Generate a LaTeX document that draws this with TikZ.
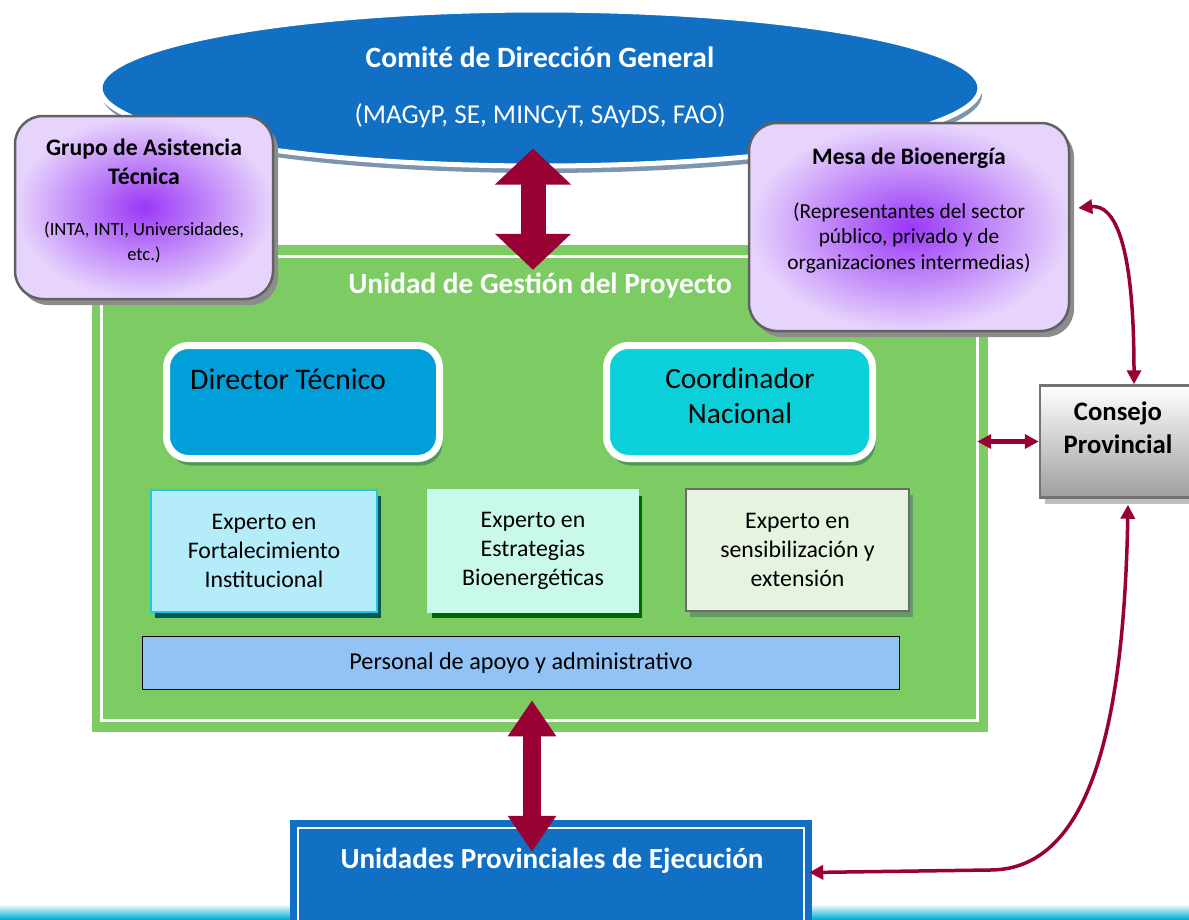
\documentclass[tikz,border=0pt]{standalone}
\usepackage{fontspec}
\setmainfont{Carlito}
\usetikzlibrary{shapes}
\usetikzlibrary{shadows}
\usetikzlibrary{arrows.meta}
\usetikzlibrary{calc}

\definecolor{azul}{HTML}{1170C4}
\definecolor{sombraazul}{HTML}{7F95AE}
\definecolor{verde}{HTML}{7DCB63}
\definecolor{verdeosc}{HTML}{4E9A58}
\definecolor{azuldir}{HTML}{009FD9}
\definecolor{cianco}{HTML}{0BCFD9}
\definecolor{lila}{HTML}{E6D4FC}
\definecolor{lilafuerte}{HTML}{9A38F6}
\definecolor{vino}{HTML}{990033}
\definecolor{celeste}{HTML}{B4ECFA}
\definecolor{cianborde}{HTML}{22C9DD}
\definecolor{menta}{HTML}{C9F9EA}
\definecolor{crema}{HTML}{E6F4DF}
\definecolor{azulclaro}{HTML}{91C4F5}
\definecolor{franja}{HTML}{00B0D8}

\begin{document}
\begin{tikzpicture}[x=1pt, y=-1pt, inner sep=0pt,
	morada/.style={rectangle, rounded corners=28pt, draw=black!62, line width=2.5pt,
		inner color=lilafuerte, outer color=lila,
		drop shadow={shadow xshift=5pt, shadow yshift=-6pt, fill=black!45, opacity=1}},
	jefe/.style={rectangle, rounded corners=22pt, draw=white, line width=7pt,
		minimum height=113pt,
		drop shadow={shadow xshift=3pt, shadow yshift=-7pt, fill=verdeosc, opacity=1}},
	experto/.style={rectangle, line width=2pt, minimum height=122pt, align=center,
		font=\fontsize{23.8}{28.7}\selectfont},
	gruesa/.style={vino, line width=25pt,
		{Triangle[width=74pt,length=36pt]}-{Triangle[width=74pt,length=36pt]}},
	gruesachica/.style={vino, line width=18pt,
		{Triangle[width=46pt,length=36pt]}-{Triangle[width=46pt,length=36pt]}},
	fina/.style={vino, line width=3.5pt,
		{Triangle[width=14pt,length=14pt]}-{Triangle[width=14pt,length=14pt]}},
]
\useasboundingbox (0,0) rectangle (1189,919);

% Franja de abajo
\fill[top color=white, bottom color=franja] (0,904) rectangle (1189,919);

% Comite
\node[ellipse, draw=white, line width=5pt, fill=azul, minimum width=880pt, minimum height=156pt,
	drop shadow={shadow xshift=2pt, shadow yshift=-7pt, fill=sombraazul, opacity=1}] (comite) at (540,88) {};
\node[text=white, font=\bfseries\fontsize{29.5}{33}\selectfont] (comitetit) at (540,57) {Comité de Dirección General};
\node[text=white, font=\fontsize{27.2}{31}\selectfont] (comitesub) at (540,116) {(MAGyP, SE, MINCyT, SAyDS, FAO)};

% Unidad de Gestion
\node[rectangle, fill=verde, minimum width=896pt, minimum height=487pt] (ugp) at (540,488.5) {};
\draw[white, line width=3pt] ($(ugp.north west)+(9.5,11.5)$) rectangle ($(ugp.south east)+(-10.5,-11.5)$);
\node[text=white, font=\bfseries\fontsize{29.3}{33}\selectfont] (ugptit) at (540,285) {Unidad de Gestión del Proyecto};

% Grupo y Mesa
\node[morada, minimum width=258pt, minimum height=183pt] (grupo) at (144,207.5) {};
\node[align=center, font=\bfseries\fontsize{23.7}{29}\selectfont] (grupotit) at (144,162) {Grupo de Asistencia\\Técnica};
\node[align=center, font=\fontsize{18.6}{25}\selectfont] (gruposub) at (144,242) {(INTA, INTI, Universidades,\\etc.)};

\node[morada, minimum width=320pt, minimum height=208pt] (mesa) at (909,227) {};
\node[font=\bfseries\fontsize{23.6}{27}\selectfont] (mesatit) at (909,158) {Mesa de Bioenergía};
\node[align=center, font=\fontsize{21.4}{25.5}\selectfont] (mesasub) at (909,238) {(Representantes del sector\\público, privado y de\\organizaciones intermedias)};

% Director y Coordinador
\node[jefe, fill=azuldir, minimum width=273pt] (dir) at (303,402) {};
\node[anchor=west, font=\fontsize{29.9}{34}\selectfont] (dirtxt) at (190,379) {Director Técnico};
\node[jefe, fill=cianco, minimum width=266pt] (coord) at (739.5,402) {};
\node[align=center, font=\fontsize{29.4}{35}\selectfont] (coordtxt) at (740,396) {Coordinador\\Nacional};

% Expertos
\node[experto, fill=celeste, draw=cianborde, minimum width=226pt,
	drop shadow={shadow xshift=4pt, shadow yshift=-6pt, fill=teal!70!black, opacity=1}] (exp1) at (264,551) {Experto en\\Fortalecimiento\\Institucional};
\node[experto, fill=menta, draw=menta, minimum width=210pt,
	drop shadow={shadow xshift=4pt, shadow yshift=-6pt, fill=green!40!black, opacity=1}] (exp2) at (533,551) {Experto en\\Estrategias\\Bioenergéticas};
\node[experto, fill=crema, draw=black!58, minimum width=223pt,
	drop shadow={shadow xshift=4pt, shadow yshift=-6pt, fill=green!20!gray, opacity=1}] (exp3) at (797.5,550) {Experto en\\sensibilización y\\extensión};

\node[rectangle, draw=black, line width=1.5pt, fill=azulclaro, minimum width=757pt, minimum height=53pt,
	font=\fontsize{24.2}{28}\selectfont] (apoyo) at (521,663) {Personal de apoyo y administrativo};

% Consejo
\node[rectangle, draw=black!55, line width=2.5pt, top color=white, bottom color=black!38,
	minimum width=156pt, minimum height=112pt,
	drop shadow={shadow xshift=5pt, shadow yshift=-6pt, fill=black!25, opacity=1}] (consejo) at (1118,441.5) {};
\node[align=center, font=\bfseries\fontsize{26.7}{33}\selectfont] (consejotit) at (1118,428) {Consejo\\Provincial};

% Unidades Provinciales
\node[rectangle, fill=azul, minimum width=522pt, minimum height=115pt] (upe) at (551,877.5) {};
\draw[white, line width=2.5pt] ($(upe.north west)+(8,8)$) rectangle ($(upe.south east)+(-8,-8)$);
\node[text=white, font=\bfseries\fontsize{29.1}{33}\selectfont] (upetit) at (552,861) {Unidades Provinciales de Ejecución};

% Flechas
\draw[gruesa] ($(comite.south)+(-7,-20)$) -- ($(ugp.north)+(-7,25)$);
\draw[gruesachica] ($(apoyo.south)+(11,10)$) -- ($(upe.north)+(-19,32)$);
\coordinate (bordeder) at ($(ugp.east)+(-11,0)$);
\draw[fina, line width=4.5pt] (bordeder |- consejo.west) -- (consejo.west);
\draw[fina] ($(mesa.east)+(8,-19)$) .. controls (1128,203) and (1134,300) .. ($(consejo.north)+(16,0)$);
\draw[fina] ($(consejo.south)+(10,6)$) .. controls (1124,720) and (1092,870) .. (990,870) -- ($(upe.east)+(-3,-5)$);
\end{tikzpicture}
\end{document}
